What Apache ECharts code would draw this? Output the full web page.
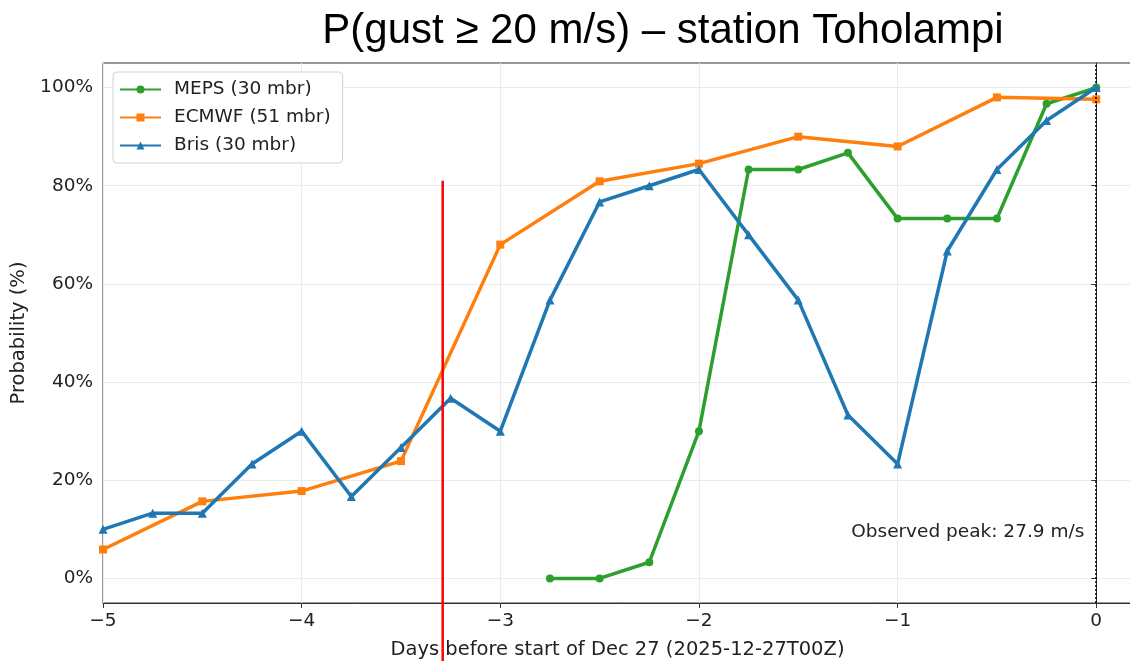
<!DOCTYPE html>
<html>
<head>
<meta charset="utf-8">
<script src="https://cdn.jsdelivr.net/npm/echarts@6/dist/echarts.min.js"></script>
<style>
  html, body { margin: 0; padding: 0; background: #fff; }
  #chart { width: 1130px; height: 661px; }
</style>
</head>
<body>
<div id="chart"></div>
<script>
// lead time in days before Dec 27 00Z
const mepsDays = [-2.75, -2.5, -2.25, -2, -1.75, -1.5, -1.25, -1, -0.75, -0.5, -0.25, 0]
const mepsProb = [0, 0, 3.3, 30, 83.3, 83.3, 86.7, 73.3, 73.3, 73.3, 96.7, 100]

const ecmwfDays = [-5, -4.5, -4, -3.5, -3, -2.5, -2, -1.5, -1, -0.5, 0]
const ecmwfProb = [5.9, 15.7, 17.8, 23.9, 68, 80.9, 84.5, 90, 88, 98, 97.6]

const brisDays = [-5, -4.75, -4.5, -4.25, -4, -3.75, -3.5, -3.25, -3, -2.75, -2.5, -2.25,
  -2, -1.75, -1.5, -1.25, -1, -0.75, -0.5, -0.25, 0]
const brisProb = [10, 13.3, 13.3, 23.3, 30, 16.7, 26.7, 36.7, 30, 56.7, 76.7, 80,
  83.3, 70, 56.7, 33.3, 23.3, 66.7, 83.3, 93.3, 100]

const xTicks = [-5, -4, -3, -2, -1, 0]
const yTicks = [0, 20, 40, 60, 80, 100]
const redLineDay = -3.29
const redLineTop = 81
const peakText = 'Observed peak: 27.9 m/s'

const pairs = (xs, ys) => xs.map((x, i) => [x, ys[i]])
const labelFont = 'DejaVu Sans'

const chart = echarts.init(document.getElementById('chart'))

const option = {
  animation: false,
  title: {
    text: 'P(gust \u2265 20 m/s) \u2013 station Toholampi',
    left: 658,
    textAlign: 'center',
    top: 5,
    textStyle: {
      fontFamily: 'Liberation Sans',
      fontSize: 42,
      fontWeight: 'normal',
      color: '#000'
    }
  },
  grid: {
    left: 103,
    right: -2,
    top: 63,
    bottom: 58,
    outerBoundsMode: 'none',
    show: true,
    borderColor: '#333',
    borderWidth: 1
  },
  legend: {
    orient: 'vertical',
    left: 113,
    top: 72,
    itemWidth: 41,
    itemHeight: 10,
    itemGap: 9,
    padding: [8, 12, 8, 6],
    backgroundColor: '#fff',
    borderColor: '#d0d0d0',
    borderWidth: 1,
    borderRadius: 4,
    textStyle: { fontFamily: labelFont, fontSize: 18.5, color: '#222', padding: [0, 0, 0, 8] },
    data: ['MEPS (30 mbr)', 'ECMWF (51 mbr)', 'Bris (30 mbr)']
  },
  xAxis: {
    type: 'value',
    min: -5,
    max: 0.18,
    interval: 1,
    name: 'Days before start of Dec 27 (2025-12-27T00Z)',
    nameLocation: 'middle',
    nameGap: 37,
    nameTextStyle: { fontFamily: labelFont, fontSize: 19.5, color: '#222' },
    axisLine: { show: true, onZero: false, lineStyle: { color: '#333' } },
    axisTick: { show: true, length: 5, customValues: xTicks, lineStyle: { color: '#333' } },
    axisLabel: {
      fontFamily: labelFont,
      fontSize: 18.5,
      color: '#222',
      margin: 9,
      customValues: xTicks,
      formatter: v => (v < 0 ? '\u2212' + Math.abs(v) : String(v))
    },
    splitLine: { show: true, lineStyle: { color: '#ebebeb' } }
  },
  yAxis: {
    type: 'value',
    min: -5,
    max: 105,
    name: 'Probability (%)',
    nameLocation: 'middle',
    nameGap: 69,
    nameTextStyle: { fontFamily: labelFont, fontSize: 19.5, color: '#222' },
    axisLine: { show: true, lineStyle: { color: '#333' } },
    axisTick: { show: true, length: 5, customValues: yTicks, lineStyle: { color: '#333' } },
    axisLabel: {
      fontFamily: labelFont,
      fontSize: 18.5,
      color: '#222',
      margin: 10,
      customValues: yTicks,
      formatter: '{value}%'
    },
    splitLine: { show: true, lineStyle: { color: '#ebebeb' } }
  },
  series: [
    {
      name: 'MEPS (30 mbr)',
      type: 'line',
      data: pairs(mepsDays, mepsProb),
      color: '#2ca02c',
      symbol: 'circle',
      symbolSize: 8,
      lineStyle: { width: 3.5 },
      z: 3
    },
    {
      name: 'ECMWF (51 mbr)',
      type: 'line',
      data: pairs(ecmwfDays, ecmwfProb),
      color: '#ff7f0e',
      symbol: 'rect',
      symbolSize: 8,
      lineStyle: { width: 3.5 },
      z: 4
    },
    {
      name: 'Bris (30 mbr)',
      type: 'line',
      data: pairs(brisDays, brisProb),
      color: '#1f77b4',
      symbol: 'triangle',
      symbolSize: 9,
      lineStyle: { width: 3.5 },
      z: 5,
      markLine: {
        silent: true,
        symbol: 'none',
        label: { show: false },
        lineStyle: { color: '#000', type: [2, 2], width: 1.5 },
        data: [{ xAxis: 0 }]
      },
      markPoint: {
        silent: true,
        symbol: 'circle',
        symbolSize: 0,
        label: {
          show: true,
          position: 'left',
          distance: 0,
          fontFamily: labelFont,
          fontSize: 18.5,
          color: '#222',
          formatter: peakText
        },
        data: [{ coord: [-0.06, 9.5] }]
      }
    }
  ]
}

chart.setOption(option)

// red vertical marker runs from inside the plot down past the axis labels
const topPt = chart.convertToPixel({ gridIndex: 0 }, [redLineDay, redLineTop])
chart.setOption({
  graphic: [{
    type: 'line',
    silent: true,
    z: 20,
    shape: { x1: topPt[0], y1: topPt[1], x2: topPt[0], y2: 661 },
    style: { stroke: '#ff0000', lineWidth: 2.5 }
  }]
})
</script>
</body>
</html>
